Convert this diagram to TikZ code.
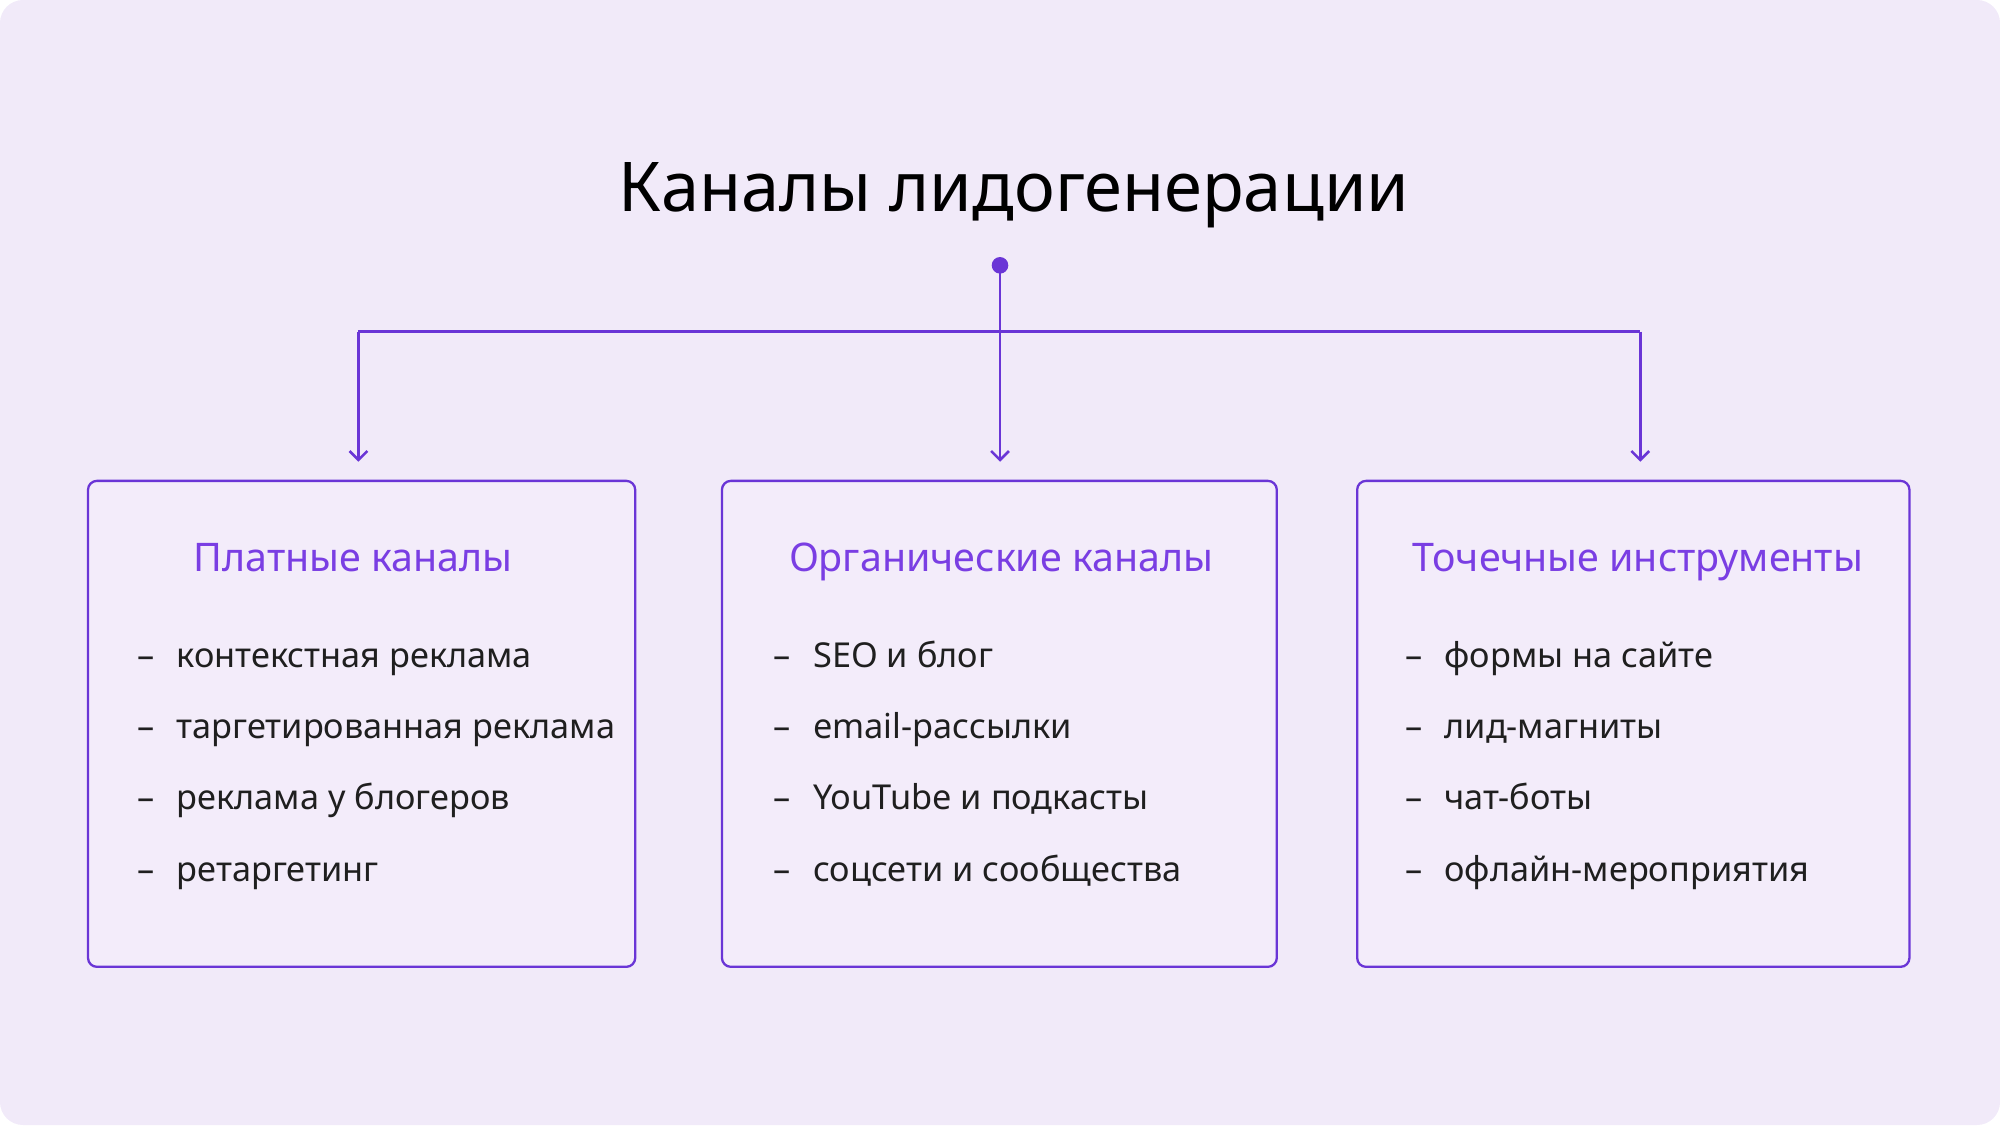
\documentclass[tikz,border=0pt]{standalone}
\usepackage{fontspec}
\setmainfont{Noto Sans}
\usetikzlibrary{arrows.meta}
\begin{document}
\begin{tikzpicture}[x=1bp,y=-1bp,
  line/.style={draw=purp,line width=2bp},
  box/.style={draw=purp,line width=1.8bp,rounded corners=7bp,fill=boxbg},
  head/.style={text=headc,font=\fontsize{31}{36}\selectfont\bfseries,anchor=base},
  item/.style={anchor=base west,font=\fontsize{27}{32}\selectfont,text=black!88},
  dashn/.style={anchor=base west,font=\fontsize{27}{32}\selectfont,text=black!88}]
\definecolor{purp}{HTML}{6A35D6}
\definecolor{headc}{HTML}{7A3EE3}
\definecolor{bg}{HTML}{F1EAF9}
\definecolor{boxbg}{HTML}{F3ECFA}
\useasboundingbox (0,0) rectangle (1568,882);
\fill[bg,rounded corners=18bp] (0,0) rectangle (1568,882);
\node[font=\fontsize{54}{60}\selectfont\bfseries,anchor=base] (title) at (795,166) {Каналы лидогенерации};
\fill[purp] (784,208) circle (6.5bp);
\coordinate (dot) at (784,208);
\coordinate (hl) at (281,260);
\coordinate (hr) at (1286,260);
\coordinate (a1) at (281,362);
\coordinate (a2) at (784,362);
\coordinate (a3) at (1286,362);
\draw[line] (hl) -- (hr);
\draw[line,-{Straight Barb[length=7bp,width=14bp]}] (dot) -- (a2);
\draw[line,-{Straight Barb[length=7bp,width=14bp]}] (hl) -- (a1);
\draw[line,-{Straight Barb[length=7bp,width=14bp]}] (hr) -- (a3);
\path[box] (69,377) rectangle (498,758);
\path[box] (566,377) rectangle (1001,758);
\path[box] (1064,377) rectangle (1497,758);
\node[head] (h1) at (277,448) {Платные каналы};
\node[head] (h2) at (785,448) {Органические каналы};
\node[head] (h3) at (1284,448) {Точечные инструменты};
\foreach \x/\n/\a/\b/\c/\d in {
 104/p/контекстная реклама/таргетированная реклама/реклама у блогеров/ретаргетинг,
 603/o/SEO и блог/email-рассылки/YouTube и подкасты/соцсети и сообщества,
 1098/t/формы на сайте/лид-магниты/чат-боты/офлайн-мероприятия}{
 \foreach \y/\s/\k in {523/\a/1,579/\b/2,635/\c/3,691/\d/4}{
   \node[dashn] (d\n\k) at (\x,\y) {–};
   \node[item] (i\n\k) at (\x+31,\y) {\s};
 }
}
\end{tikzpicture}
\end{document}
